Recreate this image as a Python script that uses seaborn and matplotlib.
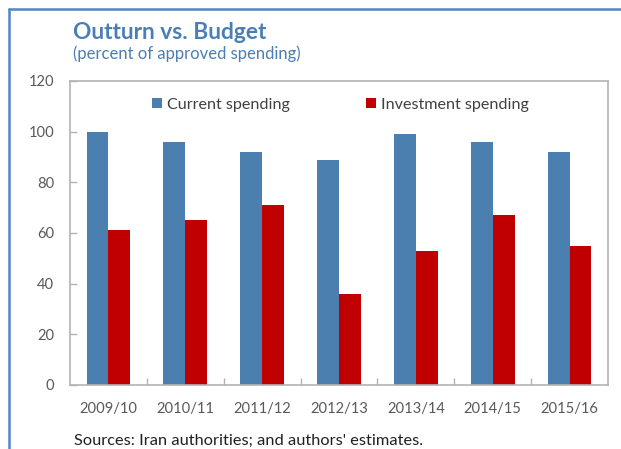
import matplotlib
matplotlib.use("Agg")
import matplotlib.pyplot as plt
import seaborn as sns
import pandas as pd
from matplotlib.lines import Line2D

years = ["2009/10", "2010/11", "2011/12", "2012/13", "2013/14", "2014/15", "2015/16"]
current = [100, 96, 92, 89, 99, 96, 92]
investment = [61, 65, 71, 36, 53, 67, 55]
series_names = ["Current spending", "Investment spending"]
yticks = [0, 20, 40, 60, 80, 100, 120]

df = pd.DataFrame({
    "year": years * 2,
    "value": current + investment,
    "series": [series_names[0]] * len(years) + [series_names[1]] * len(years),
})

sns.set_theme(style="white")
plt.rcParams["font.family"] = ["Lato", "DejaVu Sans"]

W, H = 621, 449
fig = plt.figure(figsize=(W / 100, H / 100), dpi=100)
renderer = fig.canvas.get_renderer()


def fit_size(text, target_px, weight="normal", base=10.0):
    t = fig.text(0, 0, text, fontsize=base, fontweight=weight)
    w = t.get_window_extent(renderer).width
    t.remove()
    return base * target_px / w


tick_fs = fit_size("2009/10", 58)
leg_fs = fit_size("Current spending", 123)
title_fs = fit_size("Outturn vs. Budget", 195, weight="bold")
sub_fs = fit_size("(percent of approved spending)", 229)
src_fs = fit_size("Sources: Iran authorities; and authors' estimates.", 350)

ax = fig.add_axes([70 / W, (H - 385) / H, 538 / W, 304 / H])

blue = "#4A7FB0"
red = "#C00000"
sns.barplot(data=df, x="year", y="value", hue="series", palette=[blue, red],
            width=0.57, gap=0, ax=ax, saturation=1, linewidth=0)

ax.set_ylim(0, 120)
ax.set_xlim(-0.5, len(years) - 0.5)
ax.set_yticks(yticks)
ax.set_xlabel("")
ax.set_ylabel("")
gray = "#B3B3B3"
for s in ax.spines.values():
    s.set_color(gray)
    s.set_linewidth(1.2)
ax.tick_params(axis="y", direction="in", length=5, color=gray, width=1,
               labelsize=tick_fs, labelcolor="#595959", pad=11.5, left=True)
ax.tick_params(axis="x", length=0, labelsize=tick_fs, labelcolor="#595959", pad=12)
ax.set_xticks([i + 0.5 for i in range(len(years) - 1)], minor=True)
ax.tick_params(axis="x", which="minor", direction="in", length=5, color=gray,
               width=1, bottom=True)

em = leg_fs * 100 / 72
leg = ax.legend(loc="center left", bbox_to_anchor=(152 / W, 1 - 104.5 / H),
                bbox_transform=fig.transFigure, ncol=2, frameon=False,
                fontsize=leg_fs, handlelength=10 / em, handleheight=9 / em,
                handletextpad=5 / em, columnspacing=76 / em,
                borderpad=0, borderaxespad=0)
for t in leg.get_texts():
    t.set_color("#404040")

title_blue = "#4A7FB5"
fig.text(73 / W, 1 - 39 / H, "Outturn vs. Budget", fontsize=title_fs, fontweight="bold",
         color=title_blue, va="baseline", ha="left")
fig.text(73 / W, 1 - 59 / H, "(percent of approved spending)", fontsize=sub_fs,
         color=title_blue, va="baseline", ha="left")
fig.text(74 / W, 1 - 445 / H, "Sources: Iran authorities; and authors' estimates.",
         fontsize=src_fs, color="#202020", va="baseline", ha="left")

frame = "#4F86C6"
fig.add_artist(Line2D([8.5 / W, 8.5 / W], [0, 1 - 9 / H], transform=fig.transFigure,
                      color=frame, linewidth=1.8))
fig.add_artist(Line2D([8.5 / W, 1], [1 - 9 / H, 1 - 9 / H], transform=fig.transFigure,
                      color=frame, linewidth=1.8))

fig.savefig("out.png", dpi=100)
